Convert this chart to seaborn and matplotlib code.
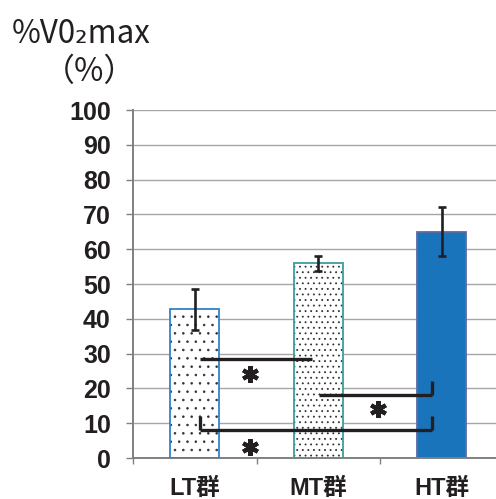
import matplotlib
matplotlib.use("Agg")
import matplotlib.pyplot as plt
import matplotlib.patches as mpatches
import seaborn as sns
import pandas as pd

# Mean %VO2max per training group with standard deviation
groups = ["LT群", "MT群", "HT群"]
vo2max_pct = [42.8, 55.9, 65.0]
vo2max_sd = [5.9, 2.2, 7.0]
y_ticks = list(range(0, 101, 10))

# Bar styling per group
face_colors = ["white", "white", "#1a74bb"]
edge_colors = ["#2f83cc", "#3a9e9e", "#5f6aa4"]
hatches = ["..", "...", ""]

# Significance brackets: horizontal span, height, end ticks
bracket_x0 = [0.04, 1.01, 0.04]
bracket_x1 = [0.95, 1.92, 1.92]
bracket_y = [28.5, 18.0, 8.0]
bracket_tick_left = [0.0, 0.0, 4.0]
bracket_tick_right = [0.0, 4.0, 4.0]
star_x = [0.45, 1.48, 0.45]
star_y = [24.2, 14.1, 3.3]

sns.set_style("white")
plt.rcParams["font.family"] = ["Liberation Sans", "Noto Sans CJK JP"]
plt.rcParams["hatch.linewidth"] = 0.6

df = pd.DataFrame({"group": groups, "value": vo2max_pct})

fig = plt.figure(figsize=(4.96, 4.99), dpi=100)
W, H = 496, 499
ax = fig.add_axes([133 / W, 41 / H, 370.5 / W, 348 / H])

sns.barplot(data=df, x="group", y="value", hue="group", palette=face_colors,
            saturation=1, width=0.4, legend=False, ax=ax, zorder=2)

ink = "#231f20"
bars = list(ax.patches)
for patch, ec, hatch in zip(bars, edge_colors, hatches):
    patch.set_edgecolor(ec)
    patch.set_linewidth(1.3)
    if hatch:
        # white fill, dark dot layer, then the coloured outline on top
        x, y = patch.get_xy()
        w, h = patch.get_width(), patch.get_height()
        ax.add_patch(mpatches.Rectangle((x, y), w, h, facecolor="white",
                                        edgecolor="none", zorder=2.2))
        ax.add_patch(mpatches.Rectangle((x, y), w, h, facecolor="none",
                                        edgecolor="#333333", hatch=hatch,
                                        linewidth=0, zorder=2.5))
        patch.set_facecolor("none")
        patch.set_zorder(3)

ax.errorbar(range(len(groups)), vo2max_pct, yerr=vo2max_sd, fmt="none",
            ecolor=ink, elinewidth=1.9, capsize=2.6, capthick=1.9, zorder=6)

# significance brackets and asterisks
for x0, x1, y, tl, tr in zip(bracket_x0, bracket_x1, bracket_y,
                             bracket_tick_left, bracket_tick_right):
    ax.plot([x0, x1], [y, y], color=ink, lw=2.4, zorder=7, solid_capstyle="butt")
    if tl:
        ax.plot([x0, x0], [y, y + tl], color=ink, lw=2.4, zorder=7, solid_capstyle="butt")
    if tr:
        ax.plot([x1, x1], [y, y + tr], color=ink, lw=2.4, zorder=7, solid_capstyle="butt")
ax.plot(star_x, star_y, linestyle="none", marker=(6, 2, 0), markersize=12,
        markeredgewidth=3.0, color=ink, zorder=8)

ax.set_xlim(-0.5, 2.5)
ax.set_ylim(0, 100)
ax.set_yticks(y_ticks)
ax.set_yticklabels([str(t) for t in y_ticks], fontsize=18, fontweight="bold", color=ink)
ax.set_xticks(range(len(groups)))
ax.set_xticklabels(groups, fontsize=17, fontweight="bold", color=ink)
ax.set_xticks([-0.5, 0.5, 1.5], minor=True)
ax.set_xlabel("")
ax.set_ylabel("")

ax.yaxis.grid(True, color="#a6a6a6", linewidth=1.0)
ax.set_axisbelow(True)
for side in ["top", "right"]:
    ax.spines[side].set_visible(False)
for side in ["left", "bottom"]:
    ax.spines[side].set_color("#808080")
    ax.spines[side].set_linewidth(1.4)

ax.tick_params(axis="y", which="major", length=5, width=1.0, color="#808080",
               direction="out", pad=11, left=True)
ax.tick_params(axis="x", which="major", length=0, pad=14)
ax.tick_params(axis="x", which="minor", length=4.5, width=1.0, color="#808080",
               direction="out", bottom=True)

fig.text(12 / W, 1 - 43 / H, "%V0₂max", family=["Noto Sans CJK JP", "DejaVu Sans"],
         fontsize=22.5, ha="left", va="baseline", color=ink)
fig.text(90 / W, 1 - 72 / H, "（%）", family=["Noto Sans CJK JP", "DejaVu Sans"],
         fontsize=23, ha="center", va="center", color=ink)

fig.savefig("out.png", dpi=100)
